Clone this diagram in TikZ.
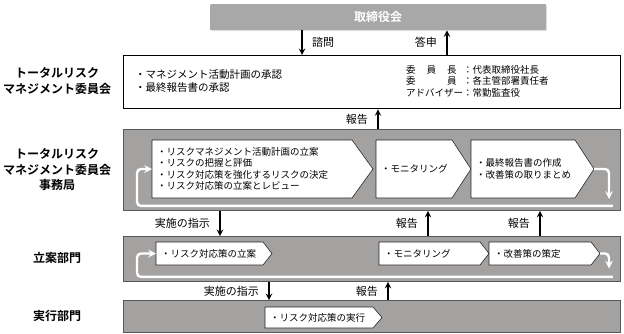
\documentclass[tikz,border=0pt]{standalone}
\usepackage{fontspec}
\setmainfont{Noto Sans CJK JP}[BoldFont={Noto Sans CJK JP Bold}]
\usetikzlibrary{shadows}
\definecolor{bandgray}{RGB}{164,161,161}
\definecolor{topgray}{RGB}{168,168,168}
\begin{document}
\begin{tikzpicture}[x=1pt,y=-1pt,>=stealth,
	band/.style={draw=black!65,fill=bandgray,line width=.9pt,minimum width=497,anchor=north west,inner sep=0},
	chev/.style={draw=black!85,fill=white,line width=.6pt},
	lab/.style={font=\bfseries\fontsize{12}{15.5}\selectfont,align=center},
	txt/.style={font=\fontsize{9.5}{11.5}\selectfont,align=left,anchor=west,inner sep=0},
	wloop/.style={white,line width=2.4pt,rounded corners=4pt}]
	\useasboundingbox (0,0) rectangle (624,333);
	% boxes
	\node[fill=topgray,minimum width=336,minimum height=26,anchor=north west,inner sep=0,rounded corners=1pt,
		drop shadow={opacity=.2,shadow xshift=1pt,shadow yshift=-1pt},
		font=\bfseries\fontsize{12}{14}\selectfont,text=white] (board) at (210,4) {取締役会};
	\node[draw,line width=1.3pt,fill=white,minimum width=497,minimum height=53,anchor=north west,inner sep=0] (tlc) at (123,55) {};
	\node[band,minimum height=81] (sec) at (123,129) {};
	\node[band,minimum height=45] (plan) at (123,236) {};
	\node[band,minimum height=32] (exec) at (123,300) {};
	% row titles
	\node[lab] (tlcl) at (57,81) {トータルリスク\\マネジメント委員会};
	\node[lab] (secl) at (57,170) {トータルリスク\\マネジメント委員会\\事務局};
	\node[lab] (planl) at (57,258) {立案部門};
	\node[lab] (execl) at (57,316) {実行部門};
	% committee
	\node[txt,font=\fontsize{10.5}{13}\selectfont] (duty) at (135,81) {・マネジメント活動計画の承認\\・最終報告書の承認};
	\node[txt] (member) at (406,81) {\makebox[6em][l]{\makebox[5.3em][s]{委\hfill 員\hfill 長}}：代表取締役社長\\
		\makebox[6em][l]{\makebox[5.3em][s]{委\hfill 員}}：各主管部署責任者\\
		アドバイザー：常勤監査役};
	% steps
	\foreach \n/\a/\b/\y/\h/\k/\t in {
		s1/152/373/140/58/21/{・リスクマネジメント活動計画の立案\\・リスクの把握と評価\\・リスク対応策を強化するリスクの決定\\・リスク対応策の立案とレビュー},
		s2/376/471/140/58/19/{・モニタリング},
		s3/471/594/140/58/19/{・最終報告書の作成\\・改善策の取りまとめ},
		p1/156/272/242/23/9/{・リスク対応策の立案},
		p2/379/489/242/23/9/{・モニタリング},
		p3/489/600/242/23/9/{・改善策の策定},
		e1/265/382/307/21/9/{・リスク対応策の実行}}
	{
		\draw[chev] (\a,\y) -- (\b-\k,\y) -- (\b,\y+\h/2) -- (\b-\k,\y+\h) -- (\a,\y+\h) -- cycle;
		\coordinate (\n-w) at (\a,\y+\h/2);
		\coordinate (\n-e) at (\b,\y+\h/2);
		\node[txt] (\n) at (\a+5,\y+\h/2) {\t};
	}
	% loops
	\draw[wloop,->] (s3-e) -- ++(15,0) -- ++(0,30);
	\draw[wloop,->] ([xshift=-8,yshift=5]sec.south east) -- ([xshift=14,yshift=5]sec.south west) |- (s1-w);
	\draw[wloop,->] (p3-e) -- ++(9,0) -- ++(0,15);
	\draw[wloop,->] ([xshift=-8,yshift=5]plan.south east) -- ([xshift=14,yshift=5]plan.south west) |- (p1-w);
	% arrows
	\foreach \u/\l/\x/\d/\s/\t in {board/tlc/302/->/right/諮問,board/tlc/447/<-/left/答申,tlc/sec/378/<-/left/報告,
		sec/plan/220/->/left/実施の指示,sec/plan/428/<-/left/報告,sec/plan/540/<-/left/報告,
		plan/exec/269/->/left/実施の指示,plan/exec/388/<-/left/報告}
	{
		\coordinate (ax) at (\x,0);
		\draw[line width=1.8pt,\d] (\u.south -| ax) -- node[\s=6pt,font=\fontsize{11}{13}\selectfont] (t\u\x) {\t} (\l.north -| ax);
	}
\end{tikzpicture}
\end{document}
